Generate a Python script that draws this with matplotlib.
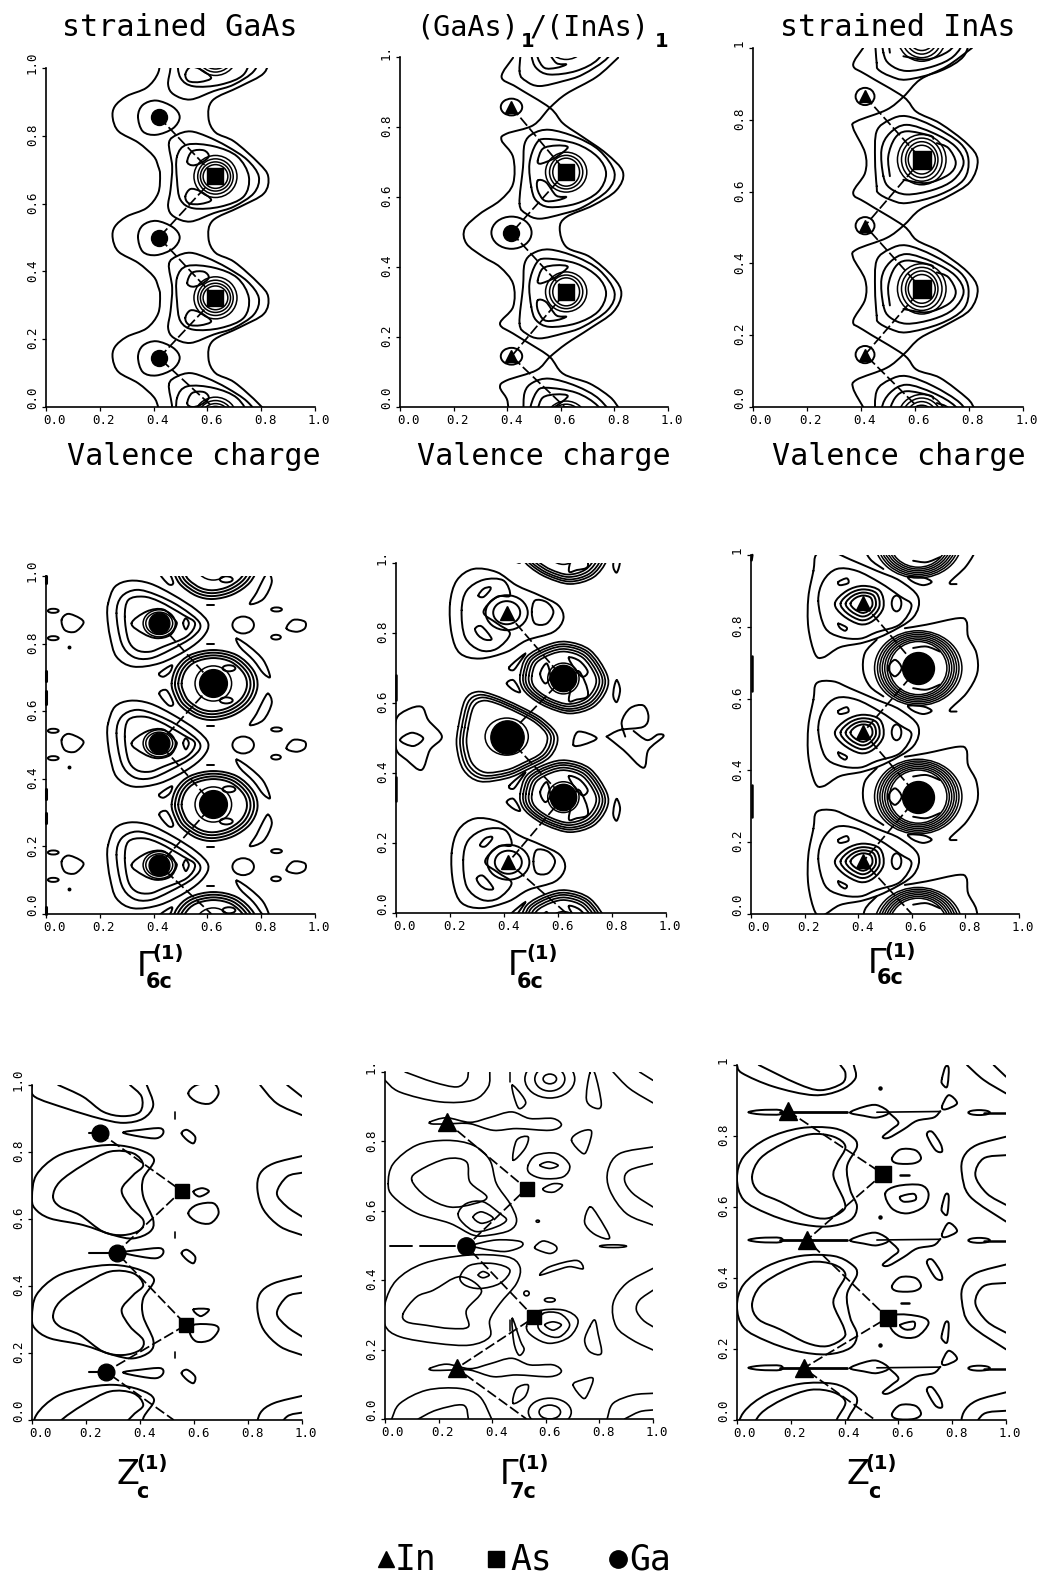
import numpy as np
import matplotlib
matplotlib.use('Agg')
import matplotlib.pyplot as plt
from matplotlib.path import Path
from matplotlib.patches import PathPatch, Ellipse
from matplotlib.transforms import ScaledTranslation

W, H = 1038, 1578
LW = 1.4
MONO = 'DejaVu Sans Mono'
TICKS = [0, .2, .4, .6, .8, 1]
XLAB = ['0.0', '0.2', '0.4', '0.6', '0.8', '1.0']
YLABS = [['0.0', '0.2', '0.4', '0.6', '0.8', '1.0'],
         ['0.0', '0.2', '0.4', '0.6', '0.8', '1.'],
         ['0.0', '0.2', '0.4', '0.6', '0.8', '1']]
RECTS = [[(46, 315, 68, 407), (400, 668, 57, 407), (753, 1023, 48, 407)],
         [(46, 315, 576, 914), (396, 666, 563, 913), (751, 1019, 555, 914)],
         [(32, 302, 1085, 1420), (385, 653, 1072, 1419), (737, 1006, 1065, 1420)]]

fig = plt.figure(figsize=(W / 100, H / 100), dpi=100, facecolor='white')


def curve(ax, pts, closed=True, lw=LW, s=1.0, at=(0, 0)):
    p = np.asarray(pts, float) * s + np.asarray(at, float)
    n = len(p)
    if closed:
        prev, nxt, nxt2 = np.roll(p, 1, 0), np.roll(p, -1, 0), np.roll(p, -2, 0)
        segs = n
    else:
        prev = np.vstack([p[0], p[:-1]])
        nxt = np.vstack([p[1:], p[-1]])
        nxt2 = np.vstack([p[2:], p[-1], p[-1]])
        segs = n - 1
    verts, codes = [p[0]], [Path.MOVETO]
    for i in range(segs):
        verts += [p[i] + (nxt[i] - prev[i]) / 6, nxt[i] - (nxt2[i] - p[i]) / 6, nxt[i]]
        codes += [Path.CURVE4] * 3
    ax.add_patch(PathPatch(Path(verts, codes), fill=False, ec='black', lw=lw, capstyle='round'))


def ring(ax, cx, cy, rx, ry, lw=LW, fill=False):
    ax.add_patch(Ellipse((cx, cy), 2 * rx, 2 * ry, fill=fill, fc='black', ec='black', lw=lw))


def bond(ax, xs, ys):
    ax.plot(xs, ys, color='black', lw=1.25, ls=(0, (6, 2.0)), zorder=3)


def atoms(ax, xs, ys, m, ms):
    ax.plot(xs, ys, ls='none', marker=m, ms=ms, color='black', mec='black', zorder=5)


def lines(ax, segs, lw=2.2, clip=True):
    for (x0, y0, x1, y1) in segs:
        ax.plot([x0, x1], [y0, y1], color='black', lw=lw, solid_capstyle='round', clip_on=clip)


axes = []
for r, row in enumerate(RECTS):
    for c, (l, rr, t, b) in enumerate(row):
        ax = fig.add_axes([l / W, 1 - b / H, (rr - l) / W, (b - t) / H])
        ax.set_xlim(0, 1); ax.set_ylim(0, 1)
        ax.patch.set_alpha(0)
        for sp in ('top', 'right'):
            ax.spines[sp].set_visible(False)
        for sp in ('left', 'bottom'):
            ax.spines[sp].set_linewidth(1.2)
        ax.set_xticks(TICKS); ax.set_yticks(TICKS)
        ax.set_xticklabels(XLAB, fontfamily=MONO, fontsize=9)
        ax.set_yticklabels(YLABS[c], fontfamily=MONO, fontsize=9, rotation=90, va='center')
        ax.tick_params(length=2.6, width=0.9, pad=2.5)
        for i, lb in enumerate(ax.get_xticklabels()):
            d = 8 if i == 0 else 4
            lb.set_transform(lb.get_transform() + ScaledTranslation(d / 100, 0, fig.dpi_scale_trans))
        for i, lb in enumerate(ax.get_yticklabels()):
            d = 9 if i == 0 else (5 if i == 5 else 1)
            lb.set_transform(lb.get_transform() + ScaledTranslation(0, d / 100, fig.dpi_scale_trans))
        axes.append(ax)

# ---------------- Row 1, strained GaAs ----------------
A_GA_Y = [0.855, 0.50, 0.145]
A_AS_Y = [1.04, 0.68, 0.322, -0.033]
A_LEFT = [(.417, 0), (.40, .03), (.343, .07), (.27, .103), (.248, .143), (.256, .177), (.30, .207), (.374, .232), (.417, .276), (.424, .33)]
A_RIGHT = [(.604, .143), (.63, .10), (.70, .073), (.79, .01), (.826, -.03), (.81, -.08), (.72, -.12), (.62, -.16)]
A_C2 = [(-.173, .099), (-.143, .123), (-.093, .133), (-.031, .118), (.043, .089), (.118, .049), (.161, 0), (.143, -.049), (.068, -.089), (-.006, -.108), (-.093, -.133), (-.155, -.118), (-.176, -.089), (-.167, -.039), (-.161, .03)]
A_C3 = [(-.143, .059), (-.105, .094), (-.006, .089), (.081, .059), (.124, 0), (.105, -.059), (.019, -.089), (-.081, -.094), (-.13, -.069), (-.143, -.01)]
A_L1 = [(-.105, .044), (-.087, .074), (-.043, .077), (-.025, .059), (-.056, .039), (-.087, .033)]
A_L2 = [(-.112, -.059), (-.093, -.037), (-.056, -.044), (-.016, -.069), (-.056, -.081), (-.099, -.079)]
A_GA = [(-.078, .002), (-.06, .036), (-.01, .049), (.052, .03), (.077, 0), (.052, -.033), (-.01, -.052), (-.06, -.042)]
A_RINGS = [(.08, .062), (.066, .052), (.056, .043), (.046, .035)]

ax = axes[0]
pts = []
for n in range(-1, 4):
    pts += [(x, y + n * .355) for x, y in A_LEFT]
curve(ax, pts, closed=False)
pts = []
for n in range(4, -2, -1):
    pts += [(x, y + n * .355) for x, y in A_RIGHT]
curve(ax, pts, closed=False)
for y in A_AS_Y:
    for sh in (A_C2, A_C3, A_L1, A_L2):
        curve(ax, sh, at=(.63, y))
    for rx, ry in A_RINGS:
        ring(ax, .63, y, rx, ry, lw=1.1)
for y in A_GA_Y:
    curve(ax, A_GA, at=(.42, y))
bond(ax, [.42, .63, .42, .63, .42, .62], [.855, .68, .50, .322, .145, 0])
atoms(ax, [.42] * 3, A_GA_Y, 'o', 11.5)
atoms(ax, [.63, .63], A_AS_Y[1:3], 's', 12)

# ---------------- Row 1, (GaAs)1/(InAs)1 ----------------
B_L1 = [(.422, .998), (.379, .943), (.435, .914), (.559, .855), (.609, .81), (.683, .771), (.77, .724), (.832, .671), (.807, .619), (.72, .576), (.621, .543), (.596, .51), (.621, .457), (.708, .429), (.795, .371), (.826, .324), (.795, .271), (.708, .224), (.621, .181), (.559, .143), (.509, .105), (.398, .076), (.373, .057), (.398, .024), (.404, 0)]
B_L2 = [(.814, .998), (.733, .943), (.621, .895), (.559, .855), (.497, .805), (.398, .781), (.379, .762), (.422, .714), (.422, .638), (.373, .59), (.298, .552), (.242, .51), (.248, .467), (.311, .429), (.373, .4), (.422, .352), (.422, .286), (.373, .238), (.422, .21), (.484, .181), (.559, .143), (.609, .095), (.708, .067), (.783, .029), (.814, 0)]
B_C2 = [(-.174, -.09), (-.161, .014), (-.155, .081), (-.124, .11), (-.062, .121), (.037, .1), (.124, .062), (.18, 0), (.155, -.052), (.062, -.1), (-.012, -.119), (-.099, -.133), (-.149, -.119)]
B_C3 = [(-.13, -.043), (-.137, .024), (-.112, .081), (-.075, .095), (.037, .081), (.118, .043), (.149, -.005), (.118, -.057), (.037, -.09), (-.062, -.1), (-.112, -.081)]
B_L_UP = [(-.106, .033), (-.087, .067), (-.037, .076), (.006, .071), (-.037, .043), (-.075, .029), (-.099, .024)]
B_L_DN = [(-.106, -.024), (-.075, -.029), (-.037, -.067), (0, -.071), (-.037, -.081), (-.081, -.081), (-.106, -.052)]
B_AS_Y = [1.05, .671, .329, -.04]
B_RINGS = [(.077, .057), (.062, .048), (.05, .04)]
ax = axes[1]
curve(ax, B_L1, closed=False); curve(ax, B_L2, closed=False)
for y in B_AS_Y:
    for sh in (B_C2, B_C3, B_L_UP, B_L_DN):
        curve(ax, sh, at=(.62, y))
    for rx, ry in B_RINGS:
        ring(ax, .62, y, rx, ry, lw=1.1)
ring(ax, .416, .498, .075, .046)
ring(ax, .416, .857, .04, .024)
ring(ax, .416, .145, .04, .024)
bond(ax, [.416, .62, .416, .62, .416, .615], [.857, .671, .498, .329, .145, 0])
atoms(ax, [.416, .416], [.857, .145], '^', 8.5)
atoms(ax, [.416], [.498], 'o', 11.5)
atoms(ax, [.62, .62], [.671, .329], 's', 12)

# ---------------- Row 1, strained InAs ----------------
C_LA = [(.408, 1.0), (.371, .952), (.421, .925), (.557, .864), (.606, .822), (.693, .79), (.792, .734), (.832, .688), (.804, .627), (.718, .585), (.619, .55), (.557, .505), (.495, .471), (.384, .439), (.371, .416), (.415, .355), (.415, .299), (.371, .239), (.408, .215), (.557, .146), (.606, .104), (.693, .081), (.792, .025), (.817, 0)]
C_LB = [(.811, 1.0), (.718, .949), (.619, .912), (.557, .864), (.495, .828), (.384, .796), (.371, .777), (.415, .708), (.415, .652), (.371, .596), (.421, .568), (.557, .505), (.606, .465), (.693, .433), (.792, .378), (.832, .329), (.804, .271), (.718, .23), (.619, .192), (.557, .146), (.495, .109), (.384, .076), (.371, .052), (.408, 0)]
C_C2 = [(-.167, -.074), (-.173, 0), (-.167, .079), (-.118, .111), (-.056, .121), (.043, .093), (.142, .046), (.173, 0), (.155, -.056), (.068, -.097), (-.056, -.121), (-.118, -.111), (-.161, -.093)]
C_C3 = [(-.142, -.046), (-.149, .028), (-.118, .074), (-.056, .097), (.043, .074), (.124, .037), (.155, -.009), (.118, -.056), (.043, -.084), (-.056, -.097), (-.118, -.079)]
C_A1 = [(-.118, -.046), (-.124, .009), (-.099, .06), (-.056, .079), (.031, .067), (.043, .058)]
C_A2 = [(.056, .046), (.099, .032), (.126, -.009), (.099, -.042), (.019, -.065), (-.068, -.056)]
C_AS_Y = [1.033, .689, .329, -.035]
C_RINGS = [(.09, .07), (.075, .06), (.06, .05), (.05, .04)]
ax = axes[2]
curve(ax, C_LA, closed=False); curve(ax, C_LB, closed=False)
for y in C_AS_Y:
    curve(ax, C_C2, at=(.625, y)); curve(ax, C_C3, at=(.625, y))
    curve(ax, C_A1, closed=False, at=(.625, y)); curve(ax, C_A2, closed=False, at=(.625, y))
    for rx, ry in C_RINGS:
        ring(ax, .625, y, rx, ry, lw=1.1)
for y in (.865, .505, .146):
    ring(ax, .415, y, .035, .024)
bond(ax, [.415, .625, .415, .625, .415, .61], [.865, .689, .505, .329, .146, 0])
atoms(ax, [.415] * 3, [.865, .505, .146], '^', 9)
atoms(ax, [.625, .625], [.689, .329], 's', 13)

# ---------------- Row 2, strained GaAs ----------------
D_G1 = [(-.19, .059), (-.165, .108), (-.109, .126), (-.035, .118), (.052, .084), (.139, .039), (.182, 0), (.164, -.039), (.102, -.079), (.002, -.118), (-.097, -.128), (-.159, -.099), (-.183, -.039), (-.193, .02)]
D_G2 = [(-.159, .03), (-.14, .079), (-.084, .099), (-.01, .084), (.077, .049), (.151, 0), (.126, -.039), (.04, -.079), (-.035, -.104), (-.097, -.099), (-.14, -.059)]
D_G3 = [(-.128, .02), (-.115, .069), (-.06, .079), (.002, .064), (.089, .025), (.133, 0), (.102, -.039), (.015, -.069), (-.035, -.084), (-.084, -.079), (-.115, -.049)]
D_G4 = [(-.103, 0), (-.047, .035), (.015, .041), (.058, .01), (.064, -.005), (.04, -.035), (-.01, -.044), (-.06, -.03)]
D_LOBE = [(.089, 0), (.099, .015), (.11, 0), (.099, -.018)]
D_BLOB = [(-.363, .01), (-.339, .028), (-.295, .015), (-.282, 0), (-.313, -.025), (-.351, -.02)]
D_BLOB2 = [(.473, -.015), (.498, .01), (.541, .005), (.541, -.015), (.51, -.025)]
D_ELL = [(-.394, .037, .02, .006), (-.394, -.044, .02, .006), (.312, -.005, .04, .025), (.436, .041, .02, .006), (.434, -.041, .018, .007)]
D_A1 = [(-.155, 0), (-.136, .049), (-.087, .084), (0, .099), (.087, .084), (.149, .039), (.164, -.01), (.136, -.059), (.074, -.094), (0, -.108), (-.062, -.099), (-.118, -.069), (-.142, -.039)]
D_SCALES = [1, .92, .84, .76]
D_ARC1 = [(.087, .133), (.136, .108), (.186, .069), (.211, .02), (.186, .03), (.149, .069), (.099, .108)]
D_ARC2 = [(.204, -.03), (.217, -.059), (.186, -.108), (.136, -.123), (.161, -.089), (.186, -.049)]
D_S1 = [(-.201, .03), (-.155, .054), (-.161, .034), (-.186, .02)]
D_S2 = [(-.201, -.03), (-.174, -.02), (-.149, -.059), (-.167, -.064)]
D_GA_Y = [.86, .505, .145]
D_AS_Y = [1.04, .682, .324, -.034]
ax = axes[3]
for y in D_GA_Y + [1.215]:
    for sh in (D_G1, D_G2, D_G3, D_G4, D_LOBE, D_BLOB, D_BLOB2):
        curve(ax, sh, at=(.421, y))
    for ex, ey, rx, ry in D_ELL:
        ring(ax, .421 + ex, y + ey, rx, ry)
    ring(ax, .421, y, .06, .04, lw=1.1); ring(ax, .421, y, .05, .033, lw=1.1)
atoms(ax, [.085] * 3, [y - .071 for y in D_GA_Y], 'o', 1.8)
for y in D_AS_Y:
    for s in D_SCALES:
        curve(ax, D_A1, s=s, at=(.622, y))
    for sh in (D_ARC1, D_ARC2, D_S1, D_S2):
        curve(ax, sh, at=(.622, y))
    ring(ax, .622, y, .068, .052, lw=1.1)
    ring(ax, .68, y + .045, .024, .009); ring(ax, .67, y - .05, .024, .009)
    lines(ax, [(.6, y + .232, .625, y + .232), (.6, y + .118, .625, y + .118)], lw=1.4)
lines(ax, [(0, 1, 0, .98), (0, .72, 0, .69), (0, .66, 0, .62), (0, .37, 0, .34), (0, .30, 0, .27), (0, .02, 0, 0)], clip=False)
bond(ax, [.421, .622, .421, .622, .421, .615], [.86, .682, .505, .324, .145, 0])
atoms(ax, [.421] * 3, D_GA_Y, 'o', 15)
atoms(ax, [.622, .622], [.682, .324], 'o', 20)

# ---------------- Row 2, (GaAs)1/(InAs)1 ----------------
E_I1 = [(-.21, .026), (-.185, .092), (-.123, .125), (-.037, .116), (.037, .078), (.123, .049), (.191, .021), (.21, -.017), (.173, -.055), (.074, -.079), (0, -.112), (-.099, -.131), (-.173, -.116), (-.204, -.06)]
E_I2 = [(-.167, .007), (-.148, .063), (-.086, .094), (-.012, .092), (.012, .049), (-.037, .045), (-.086, .002), (-.037, -.03), (.012, -.06), (-.037, -.103), (-.099, -.107), (-.154, -.07)]
E_L1 = [(-.105, .049), (-.086, .068), (-.062, .073), (-.062, .064), (-.086, .045)]
E_L2 = [(-.117, -.046), (-.093, -.039), (-.056, -.074), (-.08, -.077), (-.105, -.065)]
E_RB = [(.093, .002), (.105, .035), (.148, .03), (.173, .002), (.148, -.031), (.105, -.031)]
E_GA = [(-.179, .029), (-.154, .105), (-.111, .128), (-.049, .119), (.049, .086), (.136, .048), (.188, 0), (.161, -.057), (.074, -.095), (0, -.119), (-.099, -.128), (-.16, -.095), (-.185, -.029)]
E_GA_S = [1, .93, .87, .8]
E_B1 = [(0, .551), (.04, .58), (.095, .589), (.12, .551), (.17, .504), (.126, .466), (.095, .409), (.04, .437), (0, .47)]
E_B2 = [(.015, .494), (.058, .515), (.101, .499), (.064, .477)]
E_T = [(.657, .48), (.675, .518), (.743, .5), (.694, .481)]
E_W1 = [(.78, .504), (.83, .523), (.916, .532), (.935, .561), (.916, .593), (.867, .585), (.836, .546), (.849, .504)]
E_W2 = [(.78, .504), (.842, .466), (.916, .415), (.935, .466), (.99, .504), (.97, .51), (.93, .494), (.88, .52)]
E_A1 = [(-.16, .01), (-.136, .062), (-.062, .095), (.012, .105), (.099, .081), (.16, .014), (.16, -.033), (.111, -.081), (.025, -.1), (-.062, -.081), (-.123, -.052), (-.154, -.024)]
E_A_S = [1, .93, .87, .8, .73]
E_AL = [(-.086, .014), (-.062, .043), (-.049, .005), (-.068, -.014)]
E_AR = [(.05, .02), (.08, -.01), (.09, -.05), (.05, -.06), (.02, -.06)]
E_AU = [(.02, .06), (.06, .05), (.09, .02), (.07, .005), (.04, .03)]
E_S1 = [(-.2, .033), (-.142, .071), (-.161, .048), (-.185, .024)]
E_S2 = [(-.21, -.014), (-.185, -.005), (-.16, -.038), (-.185, -.033)]
E_S3 = [(.198, -.005), (.21, -.033), (.198, -.067), (.185, -.052), (.188, -.024)]
ax = axes[4]
for x, y in [(.41, .858), (.416, .145)]:
    for sh in (E_I1, E_I2, E_L1, E_L2, E_RB):
        curve(ax, sh, at=(x, y))
    ring(ax, x, y, .078, .05); ring(ax, x, y, .05, .033)
for s in E_GA_S:
    curve(ax, E_GA, s=s, at=(.41, .504), lw=1.25)
ring(ax, .41, .504, .08, .053, lw=1.1)
for y in (1.04, .67, .331, -.04):
    for s in E_A_S:
        curve(ax, E_A1, s=s, at=(.62, y), lw=1.25)
    for sh in (E_AL, E_AR, E_AU, E_S1, E_S2, E_S3):
        curve(ax, sh, at=(.62, y))
    ring(ax, .62, y, .058, .044, lw=1.1)
for sh in (E_B1, E_B2, E_T):
    curve(ax, sh)
curve(ax, E_W1, closed=False); curve(ax, E_W2, closed=False)
lines(ax, [(0, .68, 0, .61), (0, .39, 0, .32)], lw=1.8, clip=False)
bond(ax, [.41, .62, .41, .62, .416, .63], [.858, .67, .504, .331, .145, 0])
atoms(ax, [.41, .416], [.858, .145], '^', 9.5)
atoms(ax, [.41], [.504], 'o', 24)
atoms(ax, [.62, .62], [.67, .331], 'o', 19)

# ---------------- Row 2, strained InAs ----------------
F_O1 = [(-.186, .091), (-.174, .137), (-.112, .142), (-.05, .123), (.05, .091), (.137, .063), (.205, .017), (.186, -.039), (.087, -.085), (0, -.109), (-.087, -.122), (-.149, -.15), (-.18, -.141), (-.205, -.067), (-.205, .017)]
F_O2 = [(-.168, .007), (-.149, .063), (-.099, .096), (-.025, .091), (.062, .058), (.137, .02), (.18, -.006), (.137, -.058), (.05, -.08), (-.012, -.098), (-.087, -.093), (-.143, -.067)]
F_R1 = [(-.106, 0), (-.062, .035), (0, .049), (.062, .035), (.075, -.011), (.037, -.048), (-.012, -.058), (-.075, -.034)]
F_R_S = [1, .8, .62, .45]
F_L1 = [(-.093, .06), (-.062, .07), (-.056, .057), (-.087, .051)]
F_L2 = [(-.093, -.056), (-.062, -.067), (-.068, -.076), (-.087, -.068)]
F_L3 = [(.168, .074), (.224, .072), (.255, .06), (.224, .051), (.186, .06)]
F_B1 = [(-.155, .079), (-.199, .042), (-.205, -.009), (-.18, -.051), (-.13, -.079)]
F_B2 = [(-.05, .111), (.031, .121), (.149, .139), (.18, .13), (.186, .088), (.217, .042), (.22, -.014), (.18, -.07), (.118, -.116), (.143, -.121)]
F_LENS = [(-.112, 0), (-.087, .023), (-.062, 0), (-.087, -.023)]
F_ARC1 = [(-.019, .056), (.031, .06), (.081, .046)]
F_ARC2 = [(-.019, -.056), (.031, -.06), (.081, -.046)]
F_RINGS_X = [.163, .152, .143, .134, .125, .116, .107]
F_RINGS_Y = [.104, .099, .094, .089, .084, .079, .074]
ax = axes[5]
for y in (1.224, .865, .506, .147):
    for sh in (F_O1, F_O2, F_L1, F_L2, F_L3):
        curve(ax, sh, at=(.419, y))
    for s in F_R_S:
        curve(ax, F_R1, s=s, at=(.419, y))
    ring(ax, .543, y, .018, .022)
for y in (1.04, .685, .327, -.03):
    curve(ax, F_B1, closed=False, at=(.624, y))
    curve(ax, F_B2, closed=False, at=(.624, y))
    curve(ax, F_LENS, at=(.624, y))
    curve(ax, F_ARC1, closed=False, at=(.624, y))
    curve(ax, F_ARC2, closed=False, at=(.624, y))
    for rx, ry in zip(F_RINGS_X, F_RINGS_Y):
        ring(ax, .624, y, rx, ry, lw=1.1)
lines(ax, [(.005, 1, .002, .985), (.005, .72, .005, .62), (.005, .36, .005, .27)], lw=1.8, clip=False)
bond(ax, [.419, .624, .419, .624, .419, .6], [.865, .685, .506, .327, .147, 0])
atoms(ax, [.419] * 3, [.865, .506, .147], '^', 9.5)
atoms(ax, [.624, .624], [.685, .327], 'o', 23)

# ---------------- Row 3, strained GaAs Z ----------------
G_H1 = [(0, .667), (.016, .731), (.09, .786), (.189, .811), (.301, .821), (.4, .806), (.452, .776), (.412, .721), (.412, .667), (.449, .597), (.437, .562), (.375, .542), (.301, .552), (.189, .582), (.066, .602), (.01, .632)]
G_H2 = [(.078, .667), (.103, .711), (.189, .761), (.288, .801), (.375, .796), (.412, .761), (.375, .731), (.332, .687), (.363, .637), (.412, .597), (.4, .567), (.338, .552), (.264, .562), (.177, .612), (.103, .637)]
G_T1 = [(0, 1), (.01, .965), (.127, .93), (.251, .9), (.338, .887), (.412, .9), (.449, .94), (.425, 1)]
G_T2 = [(.097, 1), (.189, .965), (.264, .92), (.338, .907), (.4, .92), (.406, .965), (.363, 1)]
G_R1 = [(1, .788), (.895, .766), (.845, .736), (.835, .687), (.858, .627), (.92, .577), (1, .552)]
G_R2 = [(1, .738), (.944, .726), (.907, .677), (.944, .637), (1, .607)]
G_TR1 = [(.845, 1), (.907, .945), (1, .91)]
G_TR2 = [(.945, 1), (1, .965)]
G_P1 = [(.338, .858), (.4, .866), (.474, .871), (.486, .856), (.461, .841), (.4, .846)]
G_P2 = [(.554, .856), (.574, .866), (.604, .846), (.598, .826), (.574, .836)]
G_B1 = [(.579, .617), (.61, .642), (.672, .647), (.691, .617), (.66, .587), (.61, .592)]
G_B2 = [(.598, .284), (.672, .284), (.691, .269), (.66, .239), (.61, .234), (.585, .259)]
G_B3 = [(.598, .682), (.63, .692), (.655, .682), (.62, .667)]
G_B4 = [(.598, .33), (.655, .33), (.625, .31)]
ax = axes[6]
for dy in (0, -.358, -.716):
    for sh in (G_H1, G_H2):
        curve(ax, sh, at=(0, dy))
    for sh in (G_R1, G_R2):
        curve(ax, sh, closed=False, at=(0, dy))
    for sh in (G_P1, G_P2):
        curve(ax, sh, at=(0, dy))
    lines(ax, [(.53, .92 + dy, .53, .90 + dy)], lw=1.2)
for sh in (G_T1, G_T2, G_TR1, G_TR2):
    curve(ax, sh, closed=False)
for sh in (G_B1, G_B2, G_B3, G_B4):
    curve(ax, sh)
curve(ax, G_B1, at=(0, .358))
lines(ax, [(.21, .858, .26, .858), (.21, .5, .31, .5), (.21, .144, .27, .144)], lw=1.5)
bond(ax, [.251, .554, .313, .571, .274, .525], [.858, .684, .5, .284, .144, 0])
atoms(ax, [.251, .313, .274], [.858, .5, .144], 'o', 12)
atoms(ax, [.554, .571], [.684, .284], 's', 10.5)

# ---------------- Row 3, (GaAs)1/(InAs)1 Gamma7c ----------------
H_C = [
    [(.012, .678), (.031, .736), (.118, .789), (.23, .803), (.329, .789), (.391, .746), (.416, .678), (.466, .621), (.491, .573), (.466, .544), (.391, .53), (.329, .53), (.242, .564), (.118, .593), (.031, .641)],
    [(.1, .688), (.13, .717), (.23, .75), (.304, .741), (.317, .683), (.38, .64), (.33, .62), (.242, .611), (.155, .64)],
    [(.273, .592), (.304, .621), (.366, .626), (.429, .592), (.453, .573), (.416, .554), (.342, .54), (.292, .564)],
    [(.329, .582), (.36, .597), (.404, .578), (.36, .564)],
    [(0, .333), (.043, .4), (.143, .448), (.304, .472), (.453, .468), (.503, .439), (.491, .391), (.429, .333), (.391, .285), (.391, .237), (.317, .213), (.193, .218), (.056, .237), (0, .27)],
    [(.068, .304), (.118, .352), (.18, .371), (.28, .41), (.36, .37), (.304, .314), (.311, .266), (.242, .261), (.155, .27), (.081, .28)],
    [(.28, .41), (.317, .443), (.404, .448), (.466, .429), (.429, .391), (.354, .376), (.298, .386)],
    [(.348, .415), (.366, .425), (.389, .415), (.366, .407)],
    [(.168, .856), (.23, .868), (.317, .855), (.391, .869), (.472, .885), (.54, .866), (.627, .866), (.658, .847), (.615, .832), (.491, .837), (.404, .832), (.317, .851), (.242, .851), (.18, .85)],
    [(.168, .146), (.23, .158), (.317, .145), (.391, .159), (.472, .175), (.54, .156), (.627, .156), (.658, .137), (.615, .122), (.491, .127), (.404, .122), (.317, .141), (.242, .141), (.18, .14)],
    [(.329, .502), (.416, .516), (.503, .512), (.509, .497), (.453, .483), (.391, .487), (.329, .497)],
    [(.559, .496), (.59, .513), (.634, .501), (.64, .487), (.615, .477), (.571, .487)],
    [(.475, .962), (.481, .93), (.5, .895), (.525, .91), (.509, .935)],
    [(.475, .29), (.481, .22), (.5, .184), (.519, .2), (.505, .225)],
    [(.478, .746), (.491, .803), (.534, .813), (.522, .779)],
    [(.478, .045), (.491, .088), (.534, .098), (.522, .064)],
    [(.534, .731), (.565, .76), (.64, .765), (.689, .731), (.665, .698), (.59, .693), (.54, .708)],
    [(.578, .731), (.609, .741), (.646, .731), (.615, .722)],
    [(.59, .664), (.627, .678), (.662, .674), (.634, .655), (.603, .655)],
    [(.696, .803), (.727, .827), (.77, .83), (.758, .784), (.739, .765)],
    [(.702, .098), (.733, .112), (.776, .117), (.758, .074), (.739, .06)],
    [(.764, .996), (.783, .996), (.807, .91), (.789, .895), (.752, .919)],
    [(.764, .611), (.745, .566), (.783, .532), (.838, .522), (.795, .585)],
    [(.764, .266), (.745, .227), (.764, .194), (.807, .189), (.795, .246), (.783, .285)],
    [(.578, .415), (.615, .439), (.714, .457), (.739, .433), (.689, .439), (.64, .429)],
    [(.528, .266), (.565, .309), (.665, .314), (.72, .285), (.689, .237), (.615, .218), (.553, .237)],
    [(.59, .304), (.652, .304), (.689, .271), (.652, .237), (.602, .242), (.571, .266)],
    [(.596, .271), (.627, .28), (.658, .271), (.627, .256)],
]
H_O = [
    [(1, .784), (.876, .765), (.832, .717), (.839, .659), (.901, .592), (1, .559)],
    [(1, .736), (.913, .717), (.894, .688), (.925, .65), (1, .611)],
    [(1, .434), (.901, .391), (.851, .333), (.863, .266), (.925, .227), (1, .199)],
    [(1, .371), (.95, .343), (.938, .314), (.963, .285), (1, .266)],
    [(.829, 0), (.851, .045), (.925, .069), (1, .074)],
    [(.894, 0), (.95, .021), (1, .026)],
    [(.851, 1), (.913, .952), (1, .911)],
    [(.95, 1), (1, .976)],
    [(.025, 0), (.056, .045), (.155, .083), (.28, .088), (.354, .064), (.398, 0)],
    [(.124, 0), (.193, .026), (.292, .04), (.311, 0)],
    [(0, .976), (.056, .942), (.205, .914), (.329, .919), (.385, .957), (.391, 1)],
    [(.075, 1), (.18, .971), (.267, .957), (.304, .976), (.311, 1)],
]
H_E = [(.615, .98, .093, .055), (.615, .98, .056, .035), (.615, .98, .025, .014), (.615, .02, .08, .04), (.615, .02, .04, .02),
       (.528, .362, .01, .007), (.615, .343, .02, .006), (.851, .498, .05, .004), (.57, .57, .006, .003)]
ax = axes[7]
for sh in H_C:
    curve(ax, sh, lw=1.2)
for sh in H_O:
    curve(ax, sh, closed=False, lw=1.2)
for cx, cy, rx, ry in H_E:
    ring(ax, cx, cy, rx, ry, lw=1.2)
lines(ax, [(.466, 1, .466, .97), (.466, .285, .466, .255)], lw=1.1)
lines(ax, [(.02, .498, .1, .498), (.13, .498, .26, .498)], lw=1.4)
bond(ax, [.23, .528, .304, .557, .267, .528], [.856, .664, .498, .293, .146, 0])
atoms(ax, [.23, .267], [.856, .146], '^', 12.5)
atoms(ax, [.304], [.498], 'o', 12.5)
atoms(ax, [.528, .557], [.664, .293], 's', 10.5)

# ---------------- Row 3, strained InAs Z ----------------
I_H1 = [(0, .681), (.025, .742), (.112, .793), (.235, .822), (.359, .822), (.427, .798), (.446, .77), (.409, .714), (.421, .648), (.446, .601), (.421, .563), (.335, .545), (.223, .554), (.112, .582), (.025, .62)]
I_H2 = [(.056, .685), (.087, .737), (.173, .779), (.273, .805), (.359, .798), (.403, .77), (.372, .723), (.359, .685), (.397, .62), (.397, .592), (.335, .568), (.26, .577), (.161, .615), (.081, .643)]
I_R1 = [(1, .798), (.892, .775), (.843, .742), (.836, .695), (.867, .629), (1, .559)]
I_R2 = [(1, .746), (.917, .737), (.886, .69), (.929, .638), (1, .606)]
I_T = [[(0, 1), (.019, .977), (.136, .939), (.285, .915), (.384, .929), (.44, .962), (.434, 1)],
       [(.081, 1), (.223, .948), (.31, .929), (.39, .948), (.403, .977), (.384, 1)],
       [(.855, 1), (.917, .958), (1, .92)], [(.954, 1), (1, .967)]]
I_S1 = [(.043, .867), (.087, .873), (.161, .873), (.161, .861), (.087, .861)]
I_S2 = [(.421, .866), (.471, .882), (.52, .887), (.564, .866), (.52, .852), (.471, .857)]
I_W = [(.564, .866), (.6, .838), (.575, .819), (.542, .798), (.564, .795), (.62, .819), (.669, .843), (.731, .852), (.756, .87)]
I_P1 = [(.762, .883), (.787, .915), (.818, .892), (.775, .875)]
I_P2 = [(.762, .962), (.775, .995), (.787, .99), (.781, .939), (.762, .948)]
I_P3 = [(.706, .803), (.725, .812), (.756, .779), (.762, .756), (.737, .761)]
I_P4 = [(.576, .737), (.607, .762), (.663, .76), (.684, .737), (.657, .723), (.595, .723)]
I_Q = [[(.551, .638), (.595, .659), (.682, .662), (.712, .638), (.694, .601), (.632, .582), (.576, .596)],
       [(.607, .629), (.657, .637), (.663, .62), (.62, .615)],
       [(.588, .296), (.682, .291), (.712, .272), (.669, .235), (.607, .235), (.57, .263)],
       [(.607, .268), (.657, .277), (.657, .258), (.626, .255)]]
I_DOTS_Y = [.934, .573, .211]
ax = axes[8]
for dy in (0, -.36, -.72):
    for sh in (I_H1, I_H2, I_S1, I_S2, I_P1, I_P2, I_P3, I_P4):
        curve(ax, sh, at=(0, dy))
    for sh in (I_R1, I_R2, I_W):
        curve(ax, sh, closed=False, at=(0, dy))
    lines(ax, [(.161, .867 + dy, .41, .867 + dy)], lw=2.0)
    lines(ax, [(.52, .867 + dy, .756, .869 + dy)], lw=1.2)
    lines(ax, [(.92, .865 + dy, 1, .865 + dy)], lw=1.8)
    ring(ax, .9, .866 + dy, .04, .007)
for sh in I_T:
    curve(ax, sh, closed=False)
for sh in I_Q:
    curve(ax, sh)
lines(ax, [(.607, .69, .638, .69), (.61, .329, .638, .329)], lw=1.8)
atoms(ax, [.533] * 3, I_DOTS_Y, 'o', 2.2)
bond(ax, [.19, .543, .26, .56, .248, .514], [.87, .693, .507, .288, .146, 0])
atoms(ax, [.19, .26, .248], [.87, .507, .146], '^', 12.5)
atoms(ax, [.543, .56], [.693, .288], 's', 11)

# ---------------- Text and key, in figure pixels ----------------
ov = fig.add_axes([0, 0, 1, 1], zorder=10)
ov.set_xlim(0, W); ov.set_ylim(H, 0); ov.axis('off'); ov.patch.set_alpha(0)


def T(x, y, s, size=21.6, weight='normal', family=MONO):
    ov.text(x, y, s, fontsize=size, fontweight=weight, family=family, ha='center', va='center', color='black')


T(180, 27, 'strained GaAs')
T(898, 27, 'strained InAs')
T(467, 27, '(GaAs)', 20.5); T(528, 41, '1', 14, 'bold', 'DejaVu Sans')
T(590, 27, '/(InAs)', 20.5); T(662, 41, '1', 14, 'bold', 'DejaVu Sans')
for x in (194, 544, 899):
    T(x, 456, 'Valence charge')
SYMS = [(146, 966, 'Γ', 168, 953, '(1)', 159, 982, '6c'),
        (517, 965, 'Γ', 542, 953, '(1)', 530, 982, '6c'),
        (877, 963, 'Γ', 900, 951, '(1)', 890, 978, '6c'),
        (128, 1475, 'Z', 152, 1464, '(1)', 142, 1492, 'c'),
        (509, 1475, 'Γ', 533, 1464, '(1)', 523, 1492, '7c'),
        (858, 1475, 'Z', 881, 1464, '(1)', 874, 1492, 'c')]
for bx, by, bs, px, py, ps, qx, qy, qs in SYMS:
    T(bx, by, bs, 24, 'normal', 'DejaVu Sans')
    T(px, py, ps, 14, 'bold', 'DejaVu Sans')
    T(qx, qy, qs, 15, 'bold', 'DejaVu Sans')
KEY_X = [386, 496, 618]
KEY_M = ['^', 's', 'o']
KEY_S = [12, 11.5, 12.5]
KEY_T = ['In', 'As', 'Ga']
KEY_TX = [415, 531, 650]
for x, m, s, lab, tx in zip(KEY_X, KEY_M, KEY_S, KEY_T, KEY_TX):
    ov.plot([x], [1559], marker=m, ms=s, color='black', ls='none')
    T(tx, 1560, lab, 25)

fig.savefig('out.png', dpi=100, facecolor='white')
